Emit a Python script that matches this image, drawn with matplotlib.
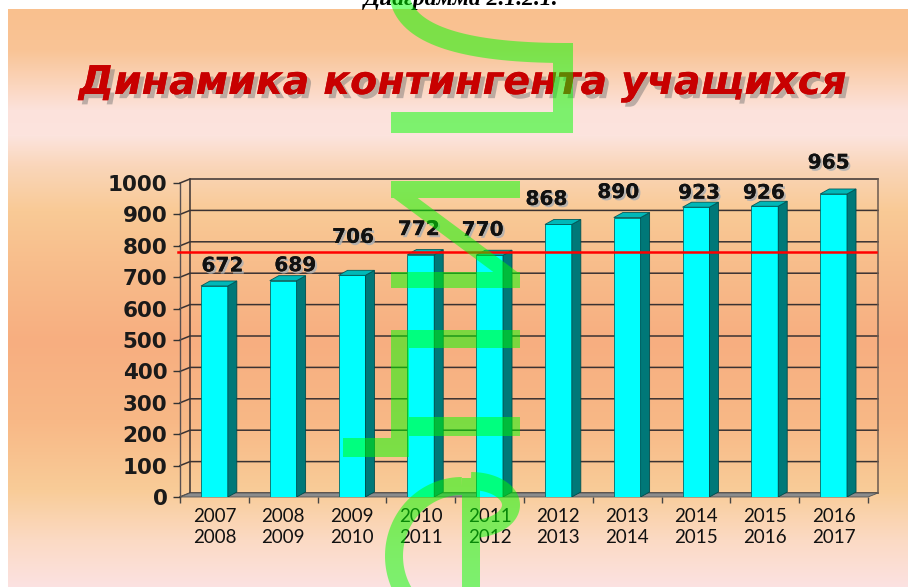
import numpy as np
import matplotlib
matplotlib.use('Agg')
from matplotlib import pyplot as plt
from matplotlib import patheffects
from matplotlib.patches import Polygon, PathPatch
from matplotlib.path import Path
from matplotlib.transforms import Affine2D

# data
years = ['2007\n2008', '2008\n2009', '2009\n2010', '2010\n2011', '2011\n2012',
         '2012\n2013', '2013\n2014', '2014\n2015', '2015\n2016', '2016\n2017']
students = [672, 689, 706, 772, 770, 868, 890, 923, 926, 965]
level = 780
y_ticks = list(range(0, 1001, 100))

# hand placed value labels (pixel nudges, as in the original sheet)
label_dx = [8, 12, 1, -2, -7, -12, -9, 3, -1, -5]
label_dy = [20, 15, 38, 25, 25, 25, 25, 14, 13, 31]

W, H = 908, 587
fig = plt.figure(figsize=(W / 100, H / 100), dpi=100)

# background gradient
stops_y = [9, 50, 85, 110, 135, 165, 210, 260, 340, 420, 490, 540, 587]
stops_c = np.array([
    (249, 192, 142), (249, 196, 150), (251, 214, 190), (252, 226, 220),
    (252, 228, 222), (250, 214, 186), (249, 202, 150), (248, 190, 140),
    (247, 174, 128), (248, 184, 134), (249, 204, 152), (251, 218, 196),
    (252, 226, 226)]) / 255
rows = np.arange(H)
grad = np.stack([np.interp(rows, stops_y, stops_c[:, k]) for k in range(3)], axis=1)
img = np.repeat(grad[:, None, :], W, axis=1)
img[:9, :, :] = 1
img[:, :8, :] = 1
bg = fig.add_axes([0, 0, 1, 1], zorder=-10)
bg.imshow(img, extent=[0, W, H, 0], aspect='auto', interpolation='bilinear')
bg.set_xlim(0, W)
bg.set_ylim(H, 0)
bg.axis('off')

# plot area (front plane)
ax = fig.add_axes([180 / W, (H - 497) / H, 688 / W, 314 / H])
ax.set_facecolor('none')
ax.set_xlim(-0.5, 9.5)
ax.set_ylim(0, 1000)
for s in ax.spines.values():
    s.set_visible(False)

px_x = 10 / 688
px_y = 1000 / 314
wdx, wdy = 10 * px_x, 4 * px_y
bdx, bdy = 9 * px_x, 5 * px_y
n = len(students)
x = np.arange(n)
grid_col = '#3a3232'

for v in y_ticks:
    ax.plot([-0.5, -0.5 + wdx, n - 0.5 + wdx], [v, v + wdy, v + wdy],
            color=grid_col, lw=1.1, zorder=1, clip_on=False)
ax.plot([-0.5 + wdx] * 2, [wdy, 1000 + wdy], color=grid_col, lw=1.1, zorder=1, clip_on=False)
ax.plot([n - 0.5 + wdx] * 2, [wdy, 1000 + wdy], color='#6a5a50', lw=1.1, zorder=1, clip_on=False)
ax.plot([-0.5, -0.5], [0, 1000], color='#5a5050', lw=1.0, zorder=1, clip_on=False)
ax.add_patch(Polygon([(-0.5, 0), (n - 0.5, 0), (n - 0.5 + wdx, wdy), (-0.5 + wdx, wdy)],
                     closed=True, facecolor='#8c8c8c', edgecolor='#555555', lw=0.6,
                     zorder=2, clip_on=False))

# 3d looking bars
bw = 0.39
ax.bar(x, students, width=bw, color='#00FFFF', edgecolor='#006a6a', lw=0.6, zorder=3)
for xi, v in zip(x, students):
    r = xi + bw / 2
    l = xi - bw / 2
    ax.add_patch(Polygon([(r, 0), (r + bdx, bdy), (r + bdx, v + bdy), (r, v)], closed=True,
                         facecolor='#007878', edgecolor='#004c4c', lw=0.6, zorder=3))
    ax.add_patch(Polygon([(l, v), (r, v), (r + bdx, v + bdy), (l + bdx, v + bdy)], closed=True,
                         facecolor='#00B8B8', edgecolor='#005a5a', lw=0.6, zorder=3))

ax.plot([-0.5 - 2 * px_x, n - 0.5 + 8 * px_x], [level, level], color='#FF0000', lw=1.8,
        zorder=5, clip_on=False)

shadow = [patheffects.withSimplePatchShadow(offset=(1.5, -1.5), shadow_rgbFace='#b0b0b0', alpha=0.9),
          patheffects.Normal()]
for xi, v, dx, dy in zip(x, students, label_dx, label_dy):
    ax.annotate(str(v), (xi, v), xytext=(dx, dy), textcoords='offset pixels',
                ha='center', va='center', fontsize=14.5, fontweight='bold',
                color='#111111', path_effects=shadow, zorder=6, annotation_clip=False)

ax.set_yticks(y_ticks)
ax.set_yticklabels([str(v) for v in y_ticks], fontsize=15.5, fontweight='bold', color='#1a1a1a')
ax.tick_params(axis='y', length=5, width=1, color='#333333', pad=4)
ax.set_xticks(x)
ax.set_xticklabels(years, fontsize=13.5, family='Lato', linespacing=1.25, color='#111111')
ax.tick_params(axis='x', which='major', length=0, pad=8)
ax.set_xticks(np.arange(-0.5, n, 1), minor=True)
ax.tick_params(axis='x', which='minor', length=4, width=1, color='#444444')

# titles
fig.text(461 / W, 1 - 5 / H, 'Диаграмма 2.1.2.1.', ha='center', va='baseline', fontsize=17,
         fontweight='bold', style='italic', family='Liberation Serif', color='black')
title_fx = [patheffects.withSimplePatchShadow(offset=(3, -3), shadow_rgbFace='#707070', alpha=0.45),
            patheffects.Normal()]
fig.text(463 / W, 1 - 94 / H, 'Динамика контингента учащихся', ha='center', va='baseline',
         fontsize=28.5, fontweight='bold', style='italic', color='#C80000', path_effects=title_fx)

# green watermark strokes over the picture (pixel coords, y down)
def rect(x0, y0, x1, y1):
    return np.array([(x0, y0), (x1, y0), (x1, y1), (x0, y1)], float)

def band(pts, hw):
    t = np.gradient(pts, axis=0)
    t /= np.linalg.norm(t, axis=1)[:, None]
    nrm = np.stack([-t[:, 1], t[:, 0]], axis=1)
    return np.vstack([pts + nrm * hw, (pts - nrm * hw)[::-1]])

def ell(cx, cy, rx, ry, a0, a1):
    a = np.radians(np.linspace(a0, a1, 60))
    return np.stack([cx + rx * np.cos(a), cy + ry * np.sin(a)], axis=1)

tt = np.linspace(0, 1, 40)[:, None]
p0, p1, p2 = np.array([399, -8]), np.array([402, 52]), np.array([562, 53])
curve = (1 - tt) ** 2 * p0 + 2 * (1 - tt) * tt * p1 + tt ** 2 * p2

shapes = [
    rect(391, 112, 573, 133), rect(553, 43, 573, 133), band(curve, 10),
    rect(391, 181, 520, 198),
    np.array([(391, 196), (415, 196), (520, 274), (496, 274)], float),
    rect(391, 272, 520, 288),
    rect(391, 330, 520, 348), rect(391, 330, 409, 457), rect(409, 417, 520, 436),
    rect(343, 438, 409, 457),
    rect(462, 478, 480, 592),
    band(ell(462, 556, 68, 70, -90, -232), 9),
    band(ell(471, 505, 40, 24, -90, 90), 9),
]
verts, codes = [], []
for p in shapes:
    area = 0.5 * np.sum(p[:, 0] * np.roll(p[:, 1], -1) - np.roll(p[:, 0], -1) * p[:, 1])
    if area < 0:
        p = p[::-1]
    verts.extend(p.tolist() + [p[0].tolist()])
    codes.extend([Path.MOVETO] + [Path.LINETO] * (len(p) - 1) + [Path.CLOSEPOLY])
pix = Affine2D().scale(1 / W, -1 / H).translate(0, 1) + fig.transFigure
mark = PathPatch(Path(verts, codes), transform=pix, facecolor='#00FF00', edgecolor='none',
                 alpha=0.5, zorder=20)
fig.add_artist(mark)

fig.savefig('out.png', dpi=100)
